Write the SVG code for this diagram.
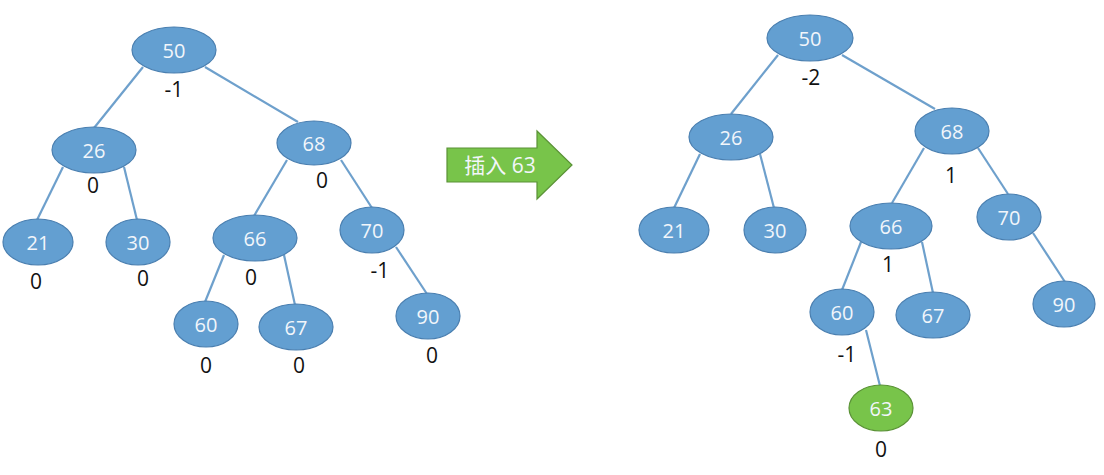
<svg xmlns="http://www.w3.org/2000/svg" width="1104" height="475" viewBox="0 0 1104 475">
<style>
.n{fill:#639fd1;stroke:#4a7fb0;stroke-width:1.2}
.g{fill:#78c44a;stroke:#5a9236;stroke-width:1.2}
.t{font-family:"Open Sans","Liberation Sans",sans-serif;font-size:20px;fill:#f2f6fb;text-anchor:middle;dominant-baseline:central}
.b{font-family:"Open Sans","Liberation Sans",sans-serif;font-size:21px;fill:#111;text-anchor:middle}
.e line{stroke:#6ea0cc;stroke-width:2.2}
</style>
<rect width="1104" height="475" fill="#fff"/>
<g id="connectors" class="e">
<line x1="143" y1="67" x2="94" y2="128"/>
<line x1="205" y1="67" x2="298" y2="122"/>
<line x1="63" y1="167" x2="37" y2="220"/>
<line x1="124" y1="167" x2="137" y2="220"/>
<line x1="287" y1="160" x2="254" y2="216"/>
<line x1="341" y1="160" x2="372" y2="208"/>
<line x1="224" y1="255" x2="205" y2="302"/>
<line x1="284" y1="255" x2="295" y2="305"/>
<line x1="396" y1="247" x2="427" y2="294"/>
<line x1="778" y1="55" x2="731" y2="114"/>
<line x1="842" y1="55" x2="935" y2="109"/>
<line x1="700" y1="154" x2="674" y2="208"/>
<line x1="760" y1="154" x2="774" y2="208"/>
<line x1="924" y1="148" x2="892" y2="203"/>
<line x1="978" y1="148" x2="1008" y2="194"/>
<line x1="861" y1="242" x2="842" y2="290"/>
<line x1="922" y1="242" x2="933" y2="293"/>
<line x1="1033" y1="233" x2="1065" y2="282"/>
<line x1="866" y1="330" x2="880" y2="386"/>
</g>
<g id="L50"><ellipse class="n" cx="174" cy="50" rx="42" ry="23"/><text class="t" x="174" y="50">50</text><text class="b" x="174" y="97">-1</text></g>
<g id="L26"><ellipse class="n" cx="94" cy="150" rx="42" ry="23"/><text class="t" x="94" y="150">26</text><text class="b" x="93" y="193">0</text></g>
<g id="L68"><ellipse class="n" cx="314" cy="143" rx="37" ry="22"/><text class="t" x="314" y="143">68</text><text class="b" x="322" y="188">0</text></g>
<g id="L21"><ellipse class="n" cx="38" cy="242" rx="35" ry="23"/><text class="t" x="38" y="242">21</text><text class="b" x="36" y="289">0</text></g>
<g id="L30"><ellipse class="n" cx="138" cy="242" rx="32" ry="23"/><text class="t" x="138" y="242">30</text><text class="b" x="143" y="286">0</text></g>
<g id="L66"><ellipse class="n" cx="255" cy="238" rx="42" ry="23"/><text class="t" x="255" y="238">66</text><text class="b" x="251" y="285">0</text></g>
<g id="L70"><ellipse class="n" cx="372" cy="230" rx="32" ry="23"/><text class="t" x="372" y="230">70</text><text class="b" x="380" y="278">-1</text></g>
<g id="L60"><ellipse class="n" cx="206" cy="324" rx="32" ry="23"/><text class="t" x="206" y="324">60</text><text class="b" x="206" y="373">0</text></g>
<g id="L67"><ellipse class="n" cx="296" cy="327" rx="37" ry="23"/><text class="t" x="296" y="327">67</text><text class="b" x="299" y="373">0</text></g>
<g id="L90"><ellipse class="n" cx="428" cy="316" rx="32" ry="23"/><text class="t" x="428" y="316">90</text><text class="b" x="432" y="363">0</text></g>
<g id="arrow">
<polygon points="447,148 537,148 537,131 572,165 537,199 537,182 447,182" fill="#78c44a" stroke="#5a9236" stroke-width="1.2"/>
<text x="500" y="173" font-family="'Open Sans','Noto Sans CJK SC',sans-serif" font-size="21" fill="#f2f6fb" text-anchor="middle">插入 63</text>
</g>
<g id="R50"><ellipse class="n" cx="810" cy="38" rx="43" ry="23"/><text class="t" x="810" y="38">50</text><text class="b" x="811" y="85">-2</text></g>
<g id="R26"><ellipse class="n" cx="731" cy="137" rx="42" ry="23"/><text class="t" x="731" y="137">26</text></g>
<g id="R68"><ellipse class="n" cx="952" cy="131" rx="37" ry="23"/><text class="t" x="952" y="131">68</text><text class="b" x="951" y="183">1</text></g>
<g id="R21"><ellipse class="n" cx="674" cy="230" rx="35" ry="23"/><text class="t" x="674" y="230">21</text></g>
<g id="R30"><ellipse class="n" cx="775" cy="230" rx="31" ry="23"/><text class="t" x="775" y="230">30</text></g>
<g id="R66"><ellipse class="n" cx="891" cy="226" rx="41" ry="23"/><text class="t" x="891" y="226">66</text><text class="b" x="888" y="272">1</text></g>
<g id="R70"><ellipse class="n" cx="1009" cy="217" rx="32" ry="23"/><text class="t" x="1009" y="217">70</text></g>
<g id="R60"><ellipse class="n" cx="842" cy="312" rx="32" ry="23"/><text class="t" x="842" y="312">60</text><text class="b" x="847" y="362">-1</text></g>
<g id="R67"><ellipse class="n" cx="933" cy="315" rx="37" ry="23"/><text class="t" x="933" y="315">67</text></g>
<g id="R90"><ellipse class="n" cx="1064" cy="304" rx="31" ry="23"/><text class="t" x="1064" y="304">90</text></g>
<g id="R63"><ellipse class="g" cx="881" cy="408" rx="32" ry="23"/><text class="t" x="881" y="408">63</text><text class="b" x="881" y="457">0</text></g>
</svg>
